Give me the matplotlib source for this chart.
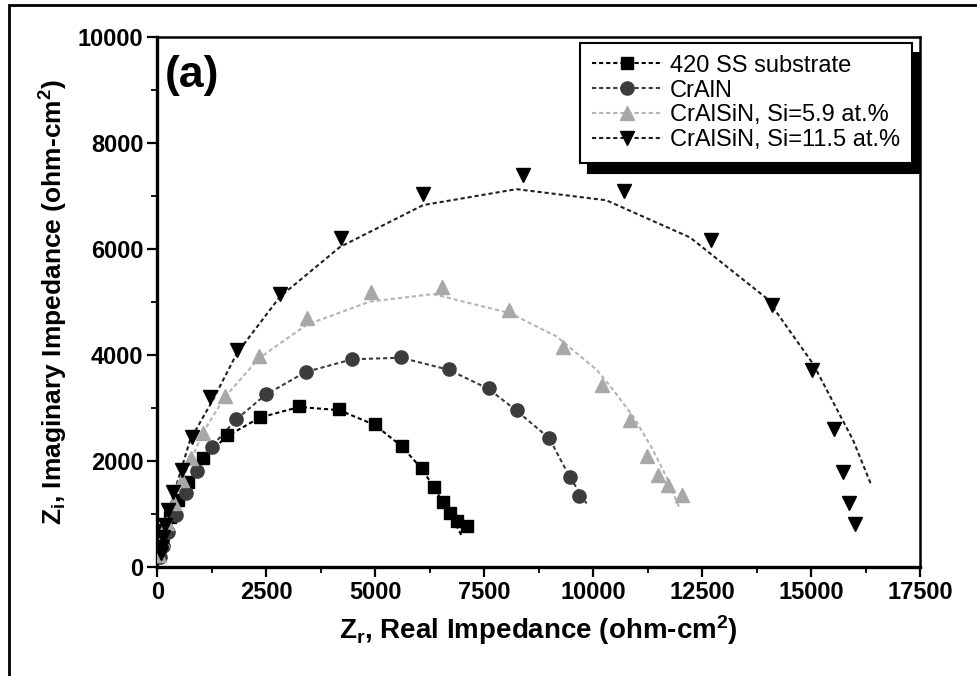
import matplotlib
matplotlib.use("Agg")
import matplotlib.pyplot as plt
from matplotlib.lines import Line2D
from matplotlib.patches import Rectangle
from matplotlib.ticker import MultipleLocator

plt.rcParams['font.family'] = ['Liberation Sans', 'DejaVu Sans']
plt.rcParams['mathtext.fontset'] = 'custom'
plt.rcParams['mathtext.rm'] = 'Liberation Sans:bold'
plt.rcParams['mathtext.bf'] = 'Liberation Sans:bold'
plt.rcParams['mathtext.it'] = 'Liberation Sans:bold'

labels = ["420 SS substrate", "CrAlN", "CrAlSiN, Si=5.9 at.%", "CrAlSiN, Si=11.5 at.%"]

# measured points (Zr, Zi)
ss_x = [46, 96, 172, 287, 477, 707, 1044, 1601, 2351, 3253, 4170, 4990, 5602,
        6061, 6343, 6542, 6710, 6864, 7093]
ss_y = [226, 453, 698, 949, 1264, 1604, 2066, 2491, 2836, 3044, 2976, 2693, 2283,
        1862, 1515, 1232, 1025, 874, 774]
cran_x = [57, 126, 241, 424, 654, 899, 1243, 1794, 2489, 3407, 4469, 5586, 6687,
          7605, 8240, 8988, 9463, 9669]
cran_y = [189, 396, 660, 981, 1396, 1817, 2270, 2787, 3265, 3686, 3919, 3957, 3736,
          3372, 2963, 2440, 1702, 1336]
si59_x = [46, 103, 218, 379, 562, 768, 1051, 1548, 2328, 3436, 4891, 6520, 8070,
          9309, 10190, 10839, 11236, 11488, 11718, 12048]
si59_y = [226, 510, 830, 1208, 1642, 2057, 2523, 3232, 3978, 4693, 5184, 5290, 4850,
          4157, 3434, 2774, 2095, 1736, 1547, 1359]
si115_x = [73, 96, 119, 172, 248, 349, 555, 785, 1204, 1831, 2810, 4203, 6097, 8378,
           10702, 12713, 14113, 15021, 15526, 15732, 15870, 16001]
si115_y = [264, 383, 572, 792, 1085, 1420, 1836, 2447, 3214, 4095, 5146, 6212, 7042,
           7406, 7091, 6170, 4944, 3717, 2598, 1798, 1213, 811]

# fitted curves
ss_fit_x = [0, 60, 180, 300, 480, 710, 1040, 1600, 2350, 3250, 4170, 4990, 5600,
            6060, 6340, 6540, 6710, 7000]
ss_fit_y = [0, 300, 700, 950, 1260, 1600, 2050, 2470, 2820, 3020, 2960, 2680, 2280,
            1860, 1510, 1230, 1020, 560]
cran_fit_x = [0, 150, 420, 900, 1250, 1800, 2480, 3400, 4470, 5590, 6690, 7600,
              8240, 8990, 9460, 9846]
cran_fit_y = [0, 500, 1000, 1800, 2280, 2780, 3250, 3680, 3920, 3950, 3720, 3360,
              2950, 2430, 1700, 1200]
si59_fit_x = [0, 100, 300, 600, 1050, 1550, 2330, 3420, 4880, 6330, 8090, 9160,
              10080, 10460, 10920, 11370, 11680, 11970]
si59_fit_y = [0, 480, 1000, 1700, 2550, 3210, 3940, 4570, 5010, 5150, 4790, 4350,
              3720, 3340, 2840, 2210, 1700, 1130]
si115_fit_x = [0, 170, 400, 750, 1270, 1820, 2810, 4190, 6100, 8240, 10300, 12220,
               13980, 15040, 15960, 16380]
si115_fit_y = [0, 790, 1450, 2400, 3150, 4030, 5100, 6040, 6830, 7130, 6920, 6220,
               5070, 3840, 2400, 1550]

fig = plt.figure(figsize=(9.77, 6.76), dpi=100)
ax = fig.add_axes([0.1612, 0.1612, 0.7805, 0.784])

dash = (0, (2, 1.4))
series = [
    (ss_x, ss_y, ss_fit_x, ss_fit_y, 's', 8.5, 'black', 'black'),
    (cran_x, cran_y, cran_fit_x, cran_fit_y, 'o', 9.5, '#3c3c3c', '#3c3c3c'),
    (si59_x, si59_y, si59_fit_x, si59_fit_y, '^', 10, '#a8a8a8', '#b4b4b4'),
    (si115_x, si115_y, si115_fit_x, si115_fit_y, 'v', 10, 'black', '#202020'),
]

handles = []
for (mx, my, fx, fy, mk, ms, mc, lc), lab in zip(series, labels):
    ax.plot(fx, fy, color=lc, lw=1.5, linestyle=dash, zorder=2)
    ax.plot(mx, my, linestyle='none', marker=mk, markersize=ms, color=mc,
            markeredgecolor=mc, zorder=3)
    handles.append(Line2D([], [], color=lc, lw=1.5, linestyle=dash, marker=mk,
                          markersize=ms, markerfacecolor=mc, markeredgecolor=mc))

ax.set_xlim(0, 17500)
ax.set_ylim(0, 10000)
ax.xaxis.set_major_locator(MultipleLocator(2500))
ax.xaxis.set_minor_locator(MultipleLocator(1250))
ax.yaxis.set_major_locator(MultipleLocator(2000))
ax.yaxis.set_minor_locator(MultipleLocator(1000))
ax.tick_params(which='major', direction='out', length=7, width=1.6, labelsize=17, pad=3)
ax.tick_params(which='minor', direction='out', length=4, width=1.3)
ax.tick_params(axis='both', which='both', top=False, right=False)
for lbl in ax.get_xticklabels() + ax.get_yticklabels():
    lbl.set_fontweight('bold')
for side in ['left', 'bottom']:
    ax.spines[side].set_linewidth(2.4)
for side in ['top', 'right']:
    ax.spines[side].set_linewidth(1.8)

ax.set_xlabel(r'Z$_{r}$, Real Impedance (ohm-cm$^{2}$)', fontsize=20, fontweight='bold',
              labelpad=7)
ax.set_ylabel(r'Z$_{i}$, Imaginary Impedance (ohm-cm$^{2}$)', fontsize=19,
              fontweight='bold', labelpad=6)

ax.text(0.010, 0.928, '(a)', transform=ax.transAxes, fontsize=32, fontweight='bold',
        va='center', ha='left')

leg = ax.legend(handles, labels, loc='upper right', bbox_to_anchor=(0.989, 0.989),
                borderaxespad=0, fontsize=17, handlelength=3.0, handletextpad=0.3,
                labelspacing=0.12, borderpad=0.5, fancybox=False, framealpha=1,
                edgecolor='black', numpoints=1,
                shadow=dict(ox=6, oy=-7, facecolor='black', edgecolor='black', alpha=1))
leg.get_frame().set_linewidth(1.5)

# outer frame of the figure panel
fig.add_artist(Rectangle((9 / 977, -0.1), 1.2, 1.1 - 5 / 676, transform=fig.transFigure,
                         fill=False, edgecolor='black', lw=2))

fig.savefig('out.png', dpi=100)
